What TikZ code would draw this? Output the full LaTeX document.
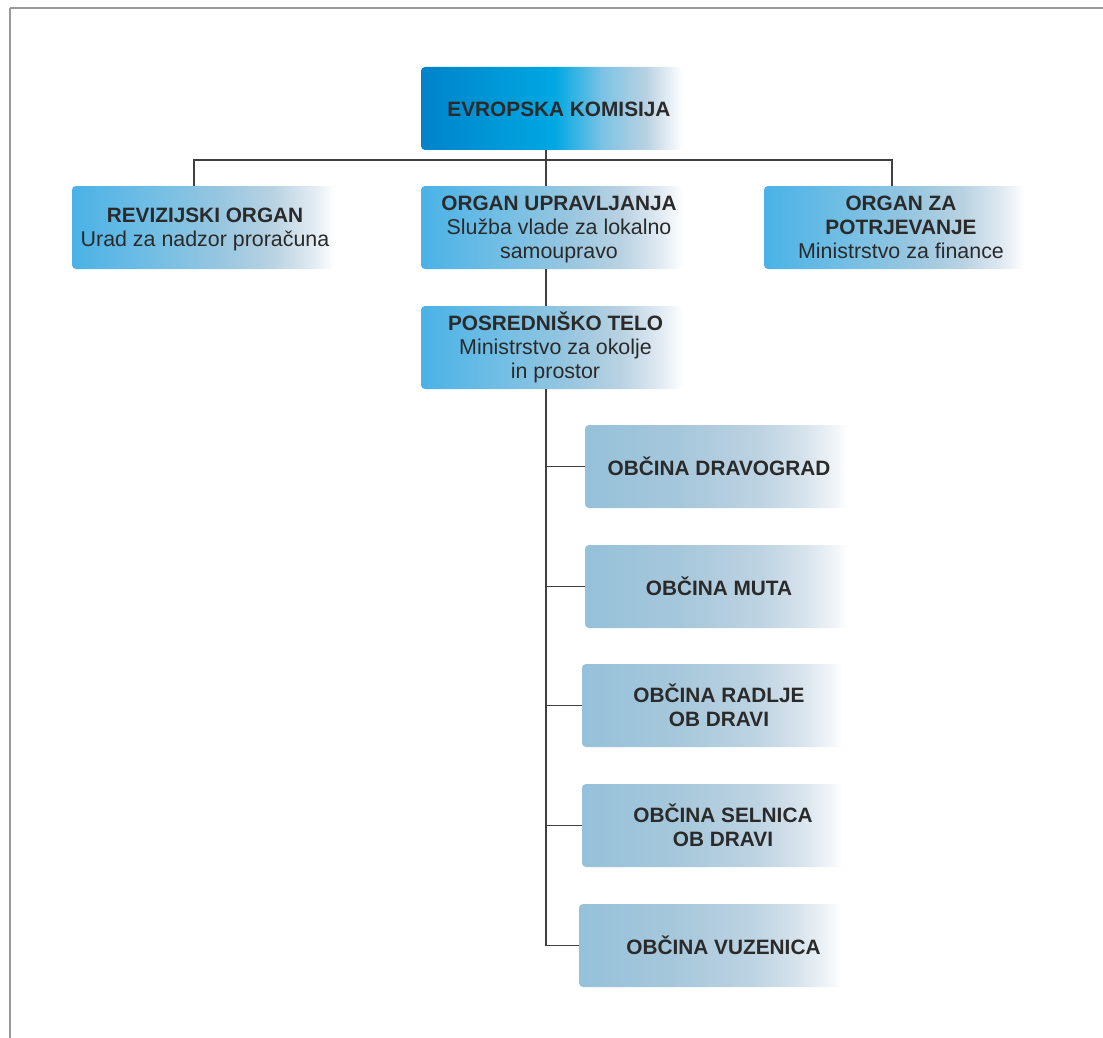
\documentclass[tikz,border=0pt]{standalone}
\usepackage{fontspec}
\setmainfont{Liberation Sans}
\definecolor{ekA}{HTML}{0083CA}
\definecolor{ekB}{HTML}{00A8E2}
\definecolor{ekC}{HTML}{7CC3E5}
\definecolor{ekD}{HTML}{B8D1E2}
\definecolor{ekE}{HTML}{E6EEF5}
\definecolor{upA}{HTML}{4AB2E6}
\definecolor{upB}{HTML}{72BEE4}
\definecolor{upC}{HTML}{97C6E0}
\definecolor{upD}{HTML}{B9D2E2}
\definecolor{upE}{HTML}{E2EBF3}
\definecolor{loA}{HTML}{95C1DA}
\definecolor{loB}{HTML}{A6C7DB}
\definecolor{loC}{HTML}{BDD3E2}
\definecolor{loD}{HTML}{D7E3EC}
\definecolor{loE}{HTML}{F0F4F8}
\definecolor{txt}{HTML}{2A2A2A}
\definecolor{linec}{HTML}{404040}
\definecolor{framec}{HTML}{999999}
\pgfdeclarehorizontalshading{ekshade}{100bp}{color(0bp)=(ekA); color(25bp)=(ekA); color(50bp)=(ekB); color(59bp)=(ekC); color(67bp)=(ekD); color(71.5bp)=(ekE); color(74bp)=(white); color(100bp)=(white)}
\pgfdeclarehorizontalshading{upshade}{100bp}{color(0bp)=(upA); color(25bp)=(upA); color(40bp)=(upB); color(52.5bp)=(upC); color(62.5bp)=(upD); color(70bp)=(upE); color(74bp)=(white); color(100bp)=(white)}
\pgfdeclarehorizontalshading{loshade}{100bp}{color(0bp)=(loA); color(25bp)=(loA); color(42.5bp)=(loB); color(57.5bp)=(loC); color(66bp)=(loD); color(71.5bp)=(loE); color(74bp)=(white); color(100bp)=(white)}
\newcommand{\hdtxt}[1]{{\fontsize{20.8}{24}\selectfont\bfseries #1}}
\newcommand{\subtxt}[1]{{\fontsize{21.4}{24}\selectfont #1}}
\tikzset{
  box/.style={rectangle, rounded corners=4pt, minimum width=267pt, minimum height=83pt,
    inner sep=0pt},
  topbox/.style={box, shading=ekshade},
  upbox/.style={box, shading=upshade},
  lobox/.style={box, shading=loshade},
  tx/.style={align=center, text=txt, inner sep=0pt, font=\fontsize{21}{24}\selectfont},
  conn/.style={draw=linec, line width=1.2pt},
  framel/.style={draw=framec}
}
\begin{document}
\begin{tikzpicture}[x=1pt,y=-1pt]
\useasboundingbox (0,0) rectangle (1103,1038);
\draw[framel, line width=2pt] (10,8) -- (1103,8);
\draw[framel, line width=1.5pt] (10,8) -- (10,1038);

\node[topbox, label={[tx,xshift=4.5pt,yshift=-1pt]center:{\hdtxt{EVROPSKA KOMISIJA}}}] (EK) at (554.5,108.5) {};
\node[upbox, minimum width=268pt, label={[tx,xshift=-1pt,yshift=-2pt]center:{\hdtxt{REVIZIJSKI ORGAN}\\\subtxt{Urad za nadzor proračuna}}}] (REV) at (206,227.5) {};
\node[upbox, label={[tx,xshift=4.5pt,yshift=-2pt]center:{\hdtxt{ORGAN UPRAVLJANJA}\\\subtxt{Služba vlade za lokalno}\\\subtxt{samoupravo}}}] (OU) at (554.5,227.5) {};
\node[upbox, minimum width=266pt, label={[tx,xshift=4pt,yshift=0pt]center:{\hdtxt{ORGAN ZA}\\\hdtxt{POTRJEVANJE}\\\subtxt{Ministrstvo za finance}}}] (OP) at (897,227.5) {};
\node[upbox, label={[tx,xshift=1pt]center:{\hdtxt{POSREDNIŠKO TELO}\\\subtxt{Ministrstvo za okolje}\\\subtxt{in prostor}}}] (PT) at (554.5,347.5) {};

\node[lobox, minimum width=268pt, label={[tx,xshift=0pt]center:{\hdtxt{OBČINA DRAVOGRAD}}}] (D1) at (719,466.5) {};
\node[lobox, minimum width=268pt, label={[tx,xshift=0pt]center:{\hdtxt{OBČINA MUTA}}}] (D2) at (719,586.5) {};
\node[lobox, minimum width=266pt, label={[tx,xshift=4pt]center:{\hdtxt{OBČINA RADLJE}\\\hdtxt{OB DRAVI}}}] (D3) at (715,705.5) {};
\node[lobox, minimum width=266pt, label={[tx,xshift=8pt]center:{\hdtxt{OBČINA SELNICA}\\\hdtxt{OB DRAVI}}}] (D4) at (715,825.5) {};
\node[lobox, label={[tx,xshift=11pt]center:{\hdtxt{OBČINA VUZENICA}}}] (D5) at (712.5,945.5) {};

\coordinate (hub) at (546,160);
\coordinate (lx) at (194,160);
\coordinate (rx) at (892,160);

\draw[conn] (REV.north -| lx) -- (lx) -- (rx) -- (OP.north -| rx);
\draw[conn] (EK.south -| hub) -- (OU.north -| hub);
\draw[conn] (OU.south -| hub) -- (PT.north -| hub);
\draw[conn] (PT.south -| hub) |- (D5.west);
\draw[conn] (D1.west) -- (D1.west -| hub);
\draw[conn] (D2.west) -- (D2.west -| hub);
\draw[conn] (D3.west) -- (D3.west -| hub);
\draw[conn] (D4.west) -- (D4.west -| hub);
\end{tikzpicture}
\end{document}
